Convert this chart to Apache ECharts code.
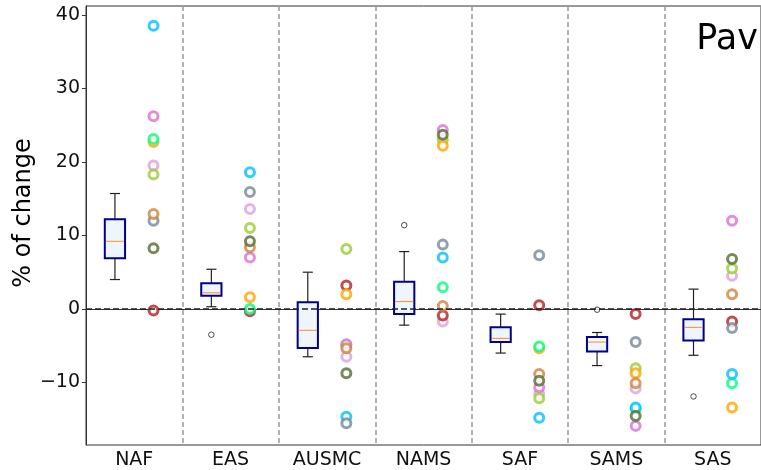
<!DOCTYPE html>
<html>
<head>
<meta charset="utf-8">
<script src="https://cdn.jsdelivr.net/npm/echarts@6/dist/echarts.min.js"></script>
<style>
  html, body { margin: 0; padding: 0; background: #fff; }
  #chart { width: 761px; height: 470px; }
</style>
</head>
<body>
<div id="chart"></div>
<script>
// Regions along the x axis
const regions = ['NAF', 'EAS', 'AUSMC', 'NAMS', 'SAF', 'SAMS', 'SAS'];

// Box statistics per region (% of change)
const boxLow    = [4.0, 0.3, -6.5, -2.2, -6.0, -7.7, -6.3];
const boxQ1     = [6.9, 1.8, -5.3, -0.7, -4.5, -5.8, -4.3];
const boxMedian = [9.2, 2.2, -2.9, 1.0, -4.0, -4.5, -2.5];
const boxQ3     = [12.2, 3.5, 0.9, 3.7, -2.5, -3.8, -1.4];
const boxHigh   = [15.7, 5.4, 5.0, 7.8, -0.7, -3.2, 2.7];

// Box outliers
const outlierRegion = ['EAS', 'NAMS', 'SAMS', 'SAS'];
const outlierValue  = [-3.5, 11.4, -0.1, -11.9];

// Individual model values per region (NAF, EAS, AUSMC, NAMS, SAF, SAMS, SAS)
const modelPlum        = [19.5, 13.6, -6.5, -1.7, -11.55, -10.8, 4.5];
const modelFirebrick   = [-0.2, -0.3, 3.2, -0.9, 0.5, -0.68, -1.7];
const modelYellowgreen = [18.3, 11.0, 8.15, 23.0, -12.15, -8.07, 5.5];
const modelOrange      = [22.7, 1.6, 2.0, 22.2, -5.35, -8.75, -13.4];
const modelSpringgreen = [23.1, 0.0, -4.95, 2.95, -5.1, -13.6, -10.1];
const modelOrchid      = [26.2, 7.0, -4.8, 24.35, -10.65, -15.9, 12.0];
const modelDeepskyblue = [38.5, 18.6, -14.65, 7.0, -14.8, -13.4, -8.85];
const modelSlategray   = [12.0, 15.9, -15.55, 8.75, 7.3, -4.5, -2.6];
const modelPeru        = [12.9, 8.4, -5.35, 0.4, -8.85, -10.1, 2.0];
const modelOlive       = [8.25, 9.2, -8.75, 23.7, -9.75, -14.55, 6.8];

// Y-axis tick values
const yTicks = [-10, 0, 10, 20, 30, 40];

const models = [
  { values: modelPlum,        color: '#DDA0DD' },
  { values: modelFirebrick,   color: '#B22222' },
  { values: modelYellowgreen, color: '#9ACD32' },
  { values: modelOrange,      color: '#FFA500' },
  { values: modelSpringgreen, color: '#00FF7F' },
  { values: modelOrchid,      color: '#DA70D6' },
  { values: modelDeepskyblue, color: '#00BFFF' },
  { values: modelSlategray,   color: '#778899' },
  { values: modelPeru,        color: '#CD853F' },
  { values: modelOlive,       color: '#556B2F' }
];

const BOX_OFFSET = 0.3;   // box position within each region slot
const PT_OFFSET = 0.7;    // model points position within each region slot
const BOX_WIDTH = 0.21;
const CAP_WIDTH = 0.105;
const FONT = 'DejaVu Sans';

const boxData = regions.map((r, i) => [i + BOX_OFFSET, boxLow[i], boxQ1[i], boxMedian[i], boxQ3[i], boxHigh[i]]);
const outlierData = outlierRegion.map((r, k) => [regions.indexOf(r) + BOX_OFFSET, outlierValue[k]]);

function renderBox(params, api) {
  const x = api.value(0);
  const pLow = api.coord([x, api.value(1)]);
  const pQ1 = api.coord([x, api.value(2)]);
  const pMed = api.coord([x, api.value(3)]);
  const pQ3 = api.coord([x, api.value(4)]);
  const pHigh = api.coord([x, api.value(5)]);
  const bw = api.size([BOX_WIDTH, 0])[0];
  const cw = api.size([CAP_WIDTH, 0])[0];
  const cx = pMed[0];
  const wStyle = { stroke: '#222', lineWidth: 1.2 };
  return {
    type: 'group',
    children: [
      { type: 'line', shape: { x1: cx, y1: pQ3[1], x2: cx, y2: pHigh[1] }, style: wStyle },
      { type: 'line', shape: { x1: cx, y1: pQ1[1], x2: cx, y2: pLow[1] }, style: wStyle },
      { type: 'line', shape: { x1: cx - cw / 2, y1: pHigh[1], x2: cx + cw / 2, y2: pHigh[1] }, style: wStyle },
      { type: 'line', shape: { x1: cx - cw / 2, y1: pLow[1], x2: cx + cw / 2, y2: pLow[1] }, style: wStyle },
      { type: 'rect', shape: { x: cx - bw / 2, y: pQ3[1], width: bw, height: pQ1[1] - pQ3[1] },
        style: { fill: '#EEF5FD', stroke: '#00008B', lineWidth: 2 } },
      { type: 'line', shape: { x1: cx - bw / 2 + 1, y1: pMed[1], x2: cx + bw / 2 - 1, y2: pMed[1] },
        style: { stroke: '#FF8C1A', lineWidth: 1 } }
    ]
  };
}

const series = [
  {
    type: 'custom',
    xAxisIndex: 1,
    renderItem: renderBox,
    data: boxData,
    z: 3,
    markLine: {
      silent: true,
      symbol: 'none',
      label: { show: false },
      lineStyle: { color: '#222', type: [6, 3], width: 1.6 },
      data: [{ yAxis: 0 }]
    }
  },
  {
    type: 'scatter',
    xAxisIndex: 1,
    symbol: 'circle',
    symbolSize: 5.5,
    itemStyle: { color: '#fff', borderColor: '#222', borderWidth: 1 },
    data: outlierData,
    z: 3
  }
];

models.forEach(m => {
  series.push({
    type: 'scatter',
    xAxisIndex: 1,
    symbol: 'circle',
    symbolSize: 9,
    itemStyle: { color: '#fff', borderColor: m.color, borderWidth: 3 },
    data: m.values.map((v, i) => [i + PT_OFFSET, v]),
    z: 4
  });
});

const chart = echarts.init(document.getElementById('chart'), null, { renderer: 'canvas' });
chart.setOption({
  animation: false,
  backgroundColor: '#fff',
  textStyle: { fontFamily: FONT },
  title: {
    text: 'Pav',
    right: -2,
    top: 17,
    textStyle: { fontFamily: FONT, fontSize: 35, fontWeight: 'normal', color: '#000' }
  },
  graphic: [{
    type: 'text',
    x: 24,
    y: 213,
    rotation: Math.PI / 2,
    style: {
      text: '% of change',
      font: '24px "DejaVu Sans"',
      fill: '#000',
      align: 'center',
      verticalAlign: 'middle'
    }
  }],
  grid: {
    left: 86, right: -2, top: 6, bottom: 25,
    show: true, borderColor: '#333', borderWidth: 1, backgroundColor: 'transparent'
  },
  xAxis: [
    {
      type: 'category',
      data: regions,
      boundaryGap: true,
      axisLine: { lineStyle: { color: '#333', width: 1 } },
      axisTick: { alignWithLabel: true, length: 4, lineStyle: { color: '#333' } },
      axisLabel: { fontFamily: FONT, fontSize: 19, color: '#111', margin: 6 },
      splitLine: { show: false }
    },
    {
      type: 'value',
      min: 0, max: 7, interval: 1,
      show: true,
      axisLine: { show: false },
      axisTick: { show: false },
      axisLabel: { show: false },
      splitLine: { show: true, lineStyle: { color: '#999', type: [5, 3], width: 1.5 } }
    }
  ],
  yAxis: {
    type: 'value',
    min: -18.5,
    max: 41.2,
    axisLine: { show: true, lineStyle: { color: '#333', width: 1 } },
    axisTick: { show: true, length: 4, lineStyle: { color: '#333' }, customValues: yTicks },
    axisLabel: {
      fontFamily: FONT, fontSize: 19, color: '#111', margin: 6,
      customValues: yTicks,
      formatter: v => String(v).replace('-', '\u2212')
    },
    splitLine: { show: false }
  },
  series: series
});
</script>
</body>
</html>
